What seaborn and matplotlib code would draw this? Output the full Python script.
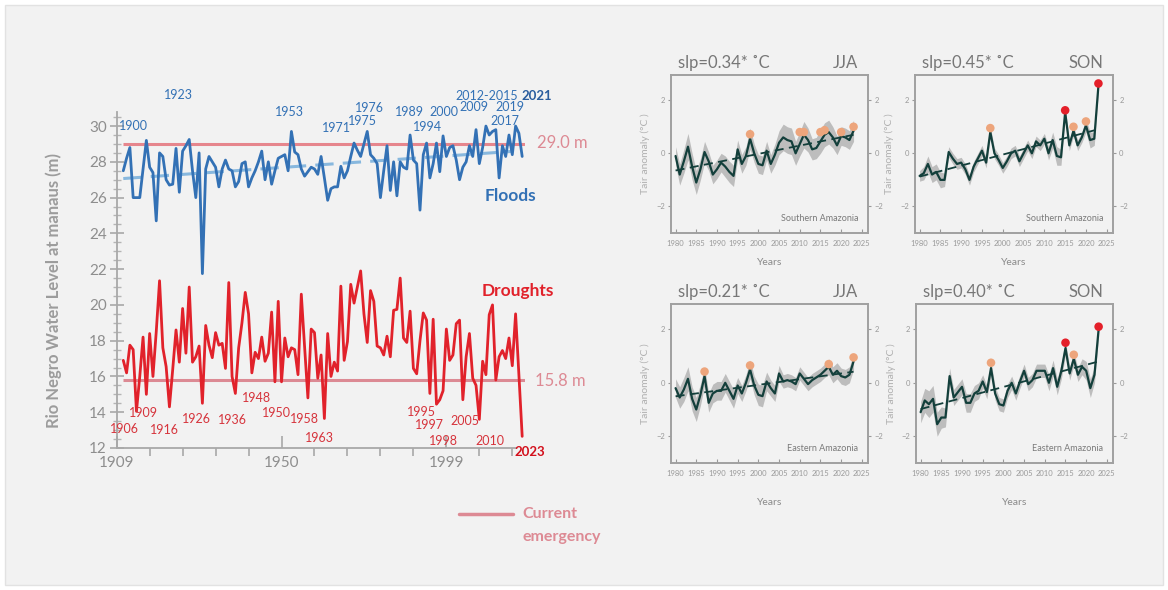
import numpy as np
import pandas as pd
import matplotlib
matplotlib.use("Agg")
import matplotlib.pyplot as plt
import seaborn as sns
from matplotlib.lines import Line2D
from matplotlib.patches import Rectangle

# ---------------- data: Rio Negro at Manaus ----------------
years = list(range(1902, 2024))
flood_levels = [
    27.5, 28.2, 28.8, 26.0, 26.0, 26.0, 27.6, 29.2, 27.7, 27.4,
    24.7, 28.5, 28.3, 27.0, 26.7, 26.75, 28.75, 26.3, 28.6, 28.9,
    29.25, 27.5, 26.0, 28.5, 21.75, 27.6, 28.3, 28.0, 27.7, 26.6,
    27.6, 28.1, 27.6, 27.5, 26.6, 26.9, 27.9, 28.0, 26.6, 27.1,
    27.5, 28.0, 28.6, 27.0, 28.0, 26.75, 27.5, 28.2, 28.3, 28.4,
    27.5, 29.7, 28.55, 28.4, 27.6, 27.2, 27.45, 27.7, 27.6, 27.3,
    28.3, 27.1, 25.85, 26.5, 26.6, 26.6, 27.75, 27.1, 27.5, 28.3,
    29.05, 28.65, 28.3, 29.0, 29.7, 28.4, 28.2, 27.9, 26.0, 27.5,
    28.9, 26.4, 28.0, 26.1, 28.0, 27.7, 27.6, 29.5, 28.1, 27.9,
    25.3, 28.4, 29.05, 27.1, 27.9, 29.05, 27.45, 29.45, 28.3, 28.8,
    28.9, 28.1, 27.0, 27.7, 28.0, 28.9, 28.3, 29.8, 27.9, 28.8,
    30.0, 29.5, 29.7, 29.8, 27.1, 28.9, 28.3, 29.5, 28.4, 30.0,
    29.6, 28.3,
]
drought_levels = [
    16.9, 16.2, 17.75, 17.5, 14.05, 16.0, 18.2, 15.0, 18.4, 16.0,
    18.5, 21.35, 17.6, 16.55, 14.3, 16.4, 18.6, 16.8, 19.8, 17.3,
    21.0, 16.8, 17.1, 17.7, 14.5, 18.85, 17.75, 17.05, 18.45, 17.75,
    17.85, 16.45, 21.25, 16.0, 15.05, 17.6, 19.0, 20.7, 19.5, 16.2,
    17.35, 17.0, 18.2, 16.85, 17.3, 19.6, 15.7, 20.2, 15.7, 18.15,
    17.1, 17.6, 17.5, 16.1, 20.6, 17.65, 14.8, 18.65, 18.45, 15.9,
    17.2, 13.65, 18.4, 16.0, 16.8, 16.3, 21.05, 16.9, 17.95, 21.15,
    20.1, 21.0, 21.9, 19.5, 17.9, 20.8, 20.2, 17.7, 17.6, 17.2,
    18.25, 17.1, 19.7, 19.75, 21.5, 18.15, 17.9, 19.65, 16.45, 16.15,
    18.0, 19.55, 19.15, 15.05, 19.2, 14.45, 14.7, 15.2, 18.65, 16.9,
    17.2, 18.95, 19.15, 14.7, 17.1, 18.4, 15.9, 15.5, 13.6, 16.85,
    16.1, 19.45, 20.0, 15.8, 17.1, 17.45, 17.0, 18.15, 16.6, 19.5,
    16.1, 12.65,
]
flood_threshold = 29.0
drought_threshold = 15.8
flood_year_labels = ["1900", "1923", "1953", "1971", "1975", "1976", "1989",
                     "1994", "2000", "2009", "2012-2015", "2019", "2017"]
drought_year_labels = ["1906", "1909", "1916", "1926", "1936", "1948", "1950",
                       "1958", "1963", "1995", "1997", "1998", "2005", "2010"]
x_tick_values = [1900, 1950, 2000]
x_tick_labels = ["1909", "1950", "1999"]

# ---------------- data: air temperature anomalies ----------------
anom_years = list(range(1980, 2024))
s_jja = [-0.1, -0.8, -0.3, 0.25, -0.5, -1.1, -0.6, 0.05, -0.3, -0.8,
         -0.6, -0.35, -0.5, -0.7, -0.85, 0.15, -0.4, -0.1, 0.55, 0.0,
         -0.4, -0.45, 0.1, -0.4, -0.05, 0.4, 0.6, 0.5, 0.45, 0.0,
         0.35, 0.7, 0.5, 0.15, 0.2, 0.45, 0.7, 0.8, 0.6, 0.3,
         0.65, 0.6, 0.5, 0.85]
s_son = [-0.85, -0.75, -0.4, -0.8, -0.7, -1.0, -1.0, 0.05, -0.2, -0.4,
         -0.35, -0.6, -1.0, -0.5, -0.2, 0.1, -0.35, 0.8, 0.0, -0.25,
         -0.55, -0.3, 0.0, 0.1, -0.3, 0.0, 0.3, 0.0, 0.45, 0.3,
         0.55, 0.0, 0.5, -0.1, -0.15, 1.55, 0.3, 0.85, 0.3, 0.6,
         1.05, 0.5, 0.55, 2.55]
e_jja = [-0.2, -0.55, -0.25, 0.15, -0.6, -1.0, -0.45, 0.25, -0.75, -0.4,
         -0.3, -0.3, 0.0, -0.3, -0.6, -0.1, -0.4, 0.0, 0.5, -0.1,
         -0.45, -0.5, 0.05, -0.2, -0.4, 0.35, 0.05, 0.1, 0.05, -0.05,
         0.35, 0.15, -0.05, 0.1, 0.2, 0.3, 0.45, 0.6, 0.3, 0.45,
         0.25, 0.2, 0.3, 0.8]
e_son = [-1.1, -0.66, -0.8, -0.6, -1.55, -1.3, -1.3, 0.25, -0.55, -0.35,
         -0.15, -0.75, -0.75, -0.4, -0.3, 0.05, -0.35, 0.55, -0.4, -0.8,
         -0.85, -0.3, 0.0, -0.4, 0.05, 0.45, -0.05, 0.1, 0.45, 0.45,
         0.45, 0.0, 0.55, -0.15, 0.45, 1.3, 0.35, 0.9, 0.3, 0.6,
         0.45, -0.2, 0.3, 2.0]
s_jja_spread = [0.35, 0.4, 0.45, 0.5, 0.5, 0.45, 0.4, 0.4, 0.35, 0.35,
                0.35, 0.35, 0.4, 0.4, 0.4, 0.35, 0.35, 0.35, 0.4, 0.35,
                0.35, 0.35, 0.35, 0.35, 0.4, 0.45, 0.5, 0.5, 0.5, 0.45,
                0.45, 0.5, 0.45, 0.4, 0.4, 0.45, 0.45, 0.45, 0.4, 0.35,
                0.35, 0.35, 0.35, 0.4]
s_son_spread = [0.2, 0.25, 0.3, 0.3, 0.3, 0.3, 0.25, 0.2, 0.2, 0.2,
                0.2, 0.2, 0.2, 0.2, 0.2, 0.2, 0.2, 0.2, 0.2, 0.2,
                0.2, 0.2, 0.2, 0.2, 0.2, 0.2, 0.2, 0.2, 0.2, 0.2,
                0.2, 0.25, 0.3, 0.35, 0.3, 0.2, 0.2, 0.2, 0.2, 0.2,
                0.25, 0.3, 0.25, 0.2]
e_jja_spread = [0.35, 0.4, 0.45, 0.45, 0.45, 0.45, 0.4, 0.35, 0.35, 0.35,
                0.35, 0.35, 0.35, 0.35, 0.35, 0.3, 0.3, 0.3, 0.35, 0.35,
                0.4, 0.4, 0.35, 0.3, 0.3, 0.3, 0.25, 0.25, 0.25, 0.25,
                0.25, 0.25, 0.25, 0.25, 0.25, 0.25, 0.25, 0.3, 0.3, 0.3,
                0.3, 0.3, 0.3, 0.3]
e_son_spread = [0.4, 0.45, 0.5, 0.5, 0.45, 0.4, 0.35, 0.3, 0.3, 0.3,
                0.3, 0.35, 0.35, 0.3, 0.3, 0.25, 0.25, 0.25, 0.25, 0.25,
                0.25, 0.25, 0.25, 0.25, 0.25, 0.25, 0.25, 0.25, 0.25, 0.25,
                0.25, 0.3, 0.3, 0.3, 0.3, 0.25, 0.25, 0.25, 0.25, 0.3,
                0.35, 0.35, 0.3, 0.25]
orange_years = [[1998, 2010, 2011, 2015, 2016, 2020, 2023],
                [1997, 2017, 2020],
                [1987, 1998, 2017, 2023],
                [1997, 2017]]
orange_vals = [[0.72, 0.8, 0.8, 0.8, 0.87, 0.8, 1.0],
               [0.95, 1.0, 1.2],
               [0.42, 0.65, 0.7, 0.95],
               [0.75, 1.05]]
red_years = [[], [2015, 2023], [], [2015, 2023]]
red_vals = [[], [1.62, 2.63], [], [1.5, 2.1]]
slopes = ["slp=0.34* ˚C", "slp=0.45* ˚C", "slp=0.21* ˚C", "slp=0.40* ˚C"]
seasons = ["JJA", "SON", "JJA", "SON"]
regions = ["Southern Amazonia", "Southern Amazonia", "Eastern Amazonia", "Eastern Amazonia"]

# ---------------- style ----------------
sns.set_theme(style="ticks")
plt.rcParams['font.family'] = ['Lato', 'DejaVu Sans']

BG = "#f2f2f2"
BLUE = "#3371b5"
BLUE_DARK = "#2a5d9e"
TREND_BLUE = "#88b8de"
RED = "#e1222b"
RED_DARK = "#d3101c"
PINK_LINE = "#e6868d"
PINK_TXT = "#dd8a94"
GREY_TXT = "#8e8e8e"
TEAL = "#133f3b"

fig = plt.figure(figsize=(11.68, 5.90), dpi=100, facecolor="white")
fig.patches.append(Rectangle((0.004, 0.008), 0.992, 0.984, transform=fig.transFigure,
                             facecolor=BG, edgecolor="#e2e2e2", lw=1, zorder=-10))

# ---------------- left panel ----------------
ax = fig.add_axes([0.0999, 0.2407, 0.3500, 0.6214])
ax.set_facecolor("none")
df_f = pd.DataFrame({"year": years, "level": flood_levels})
df_d = pd.DataFrame({"year": years, "level": drought_levels})

ax.hlines(flood_threshold, 1902, 2024, color=PINK_LINE, lw=2.2, zorder=1)
ax.hlines(drought_threshold, 1902, 2024, color="#dc8a94", lw=2.2, zorder=1)

coef = np.polyfit(df_f["year"], df_f["level"], 1)
tr_x = np.array([1902, 2020])
ax.plot(tr_x, np.polyval(coef, tr_x), color=TREND_BLUE, lw=2.2, dashes=(6, 3), zorder=2)

sns.lineplot(data=df_f, x="year", y="level", ax=ax, color=BLUE, lw=2.0, zorder=3)
sns.lineplot(data=df_d, x="year", y="level", ax=ax, color=RED, lw=2.0, zorder=3)

ax.set_xlim(1900, 2024)
ax.set_ylim(12, 32.5)
for s in ["top", "right"]:
    ax.spines[s].set_visible(False)
for s in ["left", "bottom"]:
    ax.spines[s].set_color("#a8a8a8")
    ax.spines[s].set_linewidth(1.3)
ax.spines["left"].set_bounds(12, 30.8)
ax.spines["bottom"].set_bounds(1900, 2021)

ax.set_yticks(np.arange(12, 31, 2))
ax.set_yticks(np.arange(12, 30.6, 0.5), minor=True)
ax.tick_params(axis="y", which="major", direction="inout", length=10, width=1.2,
               color="#a8a8a8", labelsize=11, labelcolor=GREY_TXT, pad=2)
ax.tick_params(axis="y", which="minor", direction="inout", length=6, width=1.0, color="#b5b5b5")
ax.set_xticks(x_tick_values)
ax.set_xticklabels(x_tick_labels)
ax.set_xticks(np.arange(1910, 2021, 10), minor=True)
ax.tick_params(axis="x", which="major", direction="in", length=9, width=1.2,
               color="#a8a8a8", labelsize=11, labelcolor=GREY_TXT, pad=6)
ax.tick_params(axis="x", which="minor", direction="out", length=6, width=1.2, color="#a8a8a8")
ax.set_xlabel("")
ax.set_ylabel("Rio Negro Water Level at manaus (m)", fontsize=12, color="#9c9c9c",
              fontweight="bold")
ax.yaxis.set_label_coords(-0.134, 0.43)

flood_pos = [(1905.2, 30.0), (1918.6, 31.74), (1952.5, 30.78), (1966.8, 29.9),
             (1974.7, 30.28), (1976.8, 31.0), (1988.9, 30.78), (1994.4, 29.94),
             (1999.2, 30.78), (2008.4, 31.06), (2012.3, 31.68), (2019.3, 31.06),
             (2017.7, 30.28)]
for lab, (x, y) in zip(flood_year_labels, flood_pos):
    ax.text(x, y, lab, color=BLUE, fontsize=9, ha="center", va="center")
ax.text(2027.4, 31.68, "2021", color=BLUE_DARK, fontsize=9.5, fontweight="bold",
        ha="center", va="center")

drought_pos = [(1902.5, 13.08), (1908.0, 13.98), (1914.6, 13.03), (1924.1, 13.64),
               (1935.0, 13.59), (1942.3, 14.8), (1948.6, 13.98), (1957.1, 13.64),
               (1961.6, 12.58), (1992.3, 14.0), (1995.0, 13.3), (1999.0, 12.4),
               (2005.6, 13.5), (2013.2, 12.4)]
for lab, (x, y) in zip(drought_year_labels, drought_pos):
    ax.text(x, y, lab, color="#d6343c", fontsize=9, ha="center", va="center")
ax.text(2025.3, 11.8, "2023", color=RED_DARK, fontsize=9.5, fontweight="bold",
        ha="center", va="center", clip_on=False)

ax.text(2027.5, 29.05, f"{flood_threshold:.1f} m", color=PINK_TXT, fontsize=12,
        ha="left", va="center")
ax.text(2027.0, 15.77, f"{drought_threshold:.1f} m", color=PINK_TXT, fontsize=12,
        ha="left", va="center")
ax.text(2019.3, 26.08, "Floods", color=BLUE, fontsize=12.5, fontweight="bold",
        ha="center", va="center")
ax.text(2021.7, 20.76, "Droughts", color=RED, fontsize=12.5, fontweight="bold",
        ha="center", va="center")

# legend "Current emergency"
fig.add_artist(Line2D([0.393, 0.439], [0.1288, 0.1288], transform=fig.transFigure,
                      color=PINK_TXT, lw=2.5))
fig.text(0.447, 0.1288, "Current", color=PINK_TXT, fontsize=11.5, fontweight="bold",
         va="center", ha="left")
fig.text(0.447, 0.0898, "emergency", color=PINK_TXT, fontsize=11.5, fontweight="bold",
         va="center", ha="left")

# ---------------- right panels ----------------
panel_rects = [[0.5745, 0.6051, 0.1687, 0.2678],
               [0.7834, 0.6051, 0.1695, 0.2678],
               [0.5745, 0.2153, 0.1687, 0.2695],
               [0.7843, 0.2153, 0.1687, 0.2695]]
series = [s_jja, s_son, e_jja, e_son]
spreads = [s_jja_spread, s_son_spread, e_jja_spread, e_son_spread]

for i in range(4):
    a = fig.add_axes(panel_rects[i])
    a.set_facecolor("none")
    vals = np.array(series[i])
    spr = np.array(spreads[i])
    yrs = np.array(anom_years)
    a.fill_between(yrs, vals - spr, vals + spr, color="#bdbdbd", lw=0, zorder=1)
    c = np.polyfit(yrs, vals, 1)
    a.plot(yrs, np.polyval(c, yrs), color=TEAL, lw=1.3, dashes=(5, 3), zorder=2)
    sns.lineplot(x=yrs, y=vals, ax=a, color=TEAL, lw=1.6, zorder=3)
    if orange_years[i]:
        sns.scatterplot(x=orange_years[i], y=orange_vals[i], ax=a, color="#eda57c",
                        s=38, edgecolor="none", zorder=4)
    if red_years[i]:
        sns.scatterplot(x=red_years[i], y=red_vals[i], ax=a, color="#e4202a",
                        s=38, edgecolor="none", zorder=5)
    a.set_xlim(1978.9, 2026.5)
    a.set_ylim(-3, 2.95)
    a.set_xticks(np.arange(1980, 2026, 5))
    a.set_yticks([-2, 0, 2])
    for s in a.spines.values():
        s.set_color("#a0a0a0")
        s.set_linewidth(1.4)
    a.tick_params(axis="x", direction="in", length=3, width=0.8, color="#999999",
                  labelsize=5.5, labelcolor="#9a9a9a", pad=5)
    a.tick_params(axis="y", which="both", left=True, right=True, labelleft=True,
                  labelright=True, direction="out", length=2.5, width=0.8,
                  color="#999999", labelsize=5.5, labelcolor="#9a9a9a", pad=2)
    a.set_xlabel("Years", fontsize=7.5, color="#8a8a8a",
                 labelpad=8 if i < 2 else 15)
    a.set_ylabel("Tair anomaly (°C )", fontsize=7.5, color="#b0b0b0", labelpad=4)
    a.text(0.035, 1.075, slopes[i], transform=a.transAxes, fontsize=12,
           color="#777777", ha="left", va="center")
    a.text(0.95, 1.075, seasons[i], transform=a.transAxes, fontsize=12,
           color="#777777", ha="right", va="center")
    a.text(0.95, 0.09, regions[i], transform=a.transAxes, fontsize=6.5,
           color="#7a7a7a", ha="right", va="center")

fig.savefig("out.png", dpi=100, facecolor=fig.get_facecolor())
